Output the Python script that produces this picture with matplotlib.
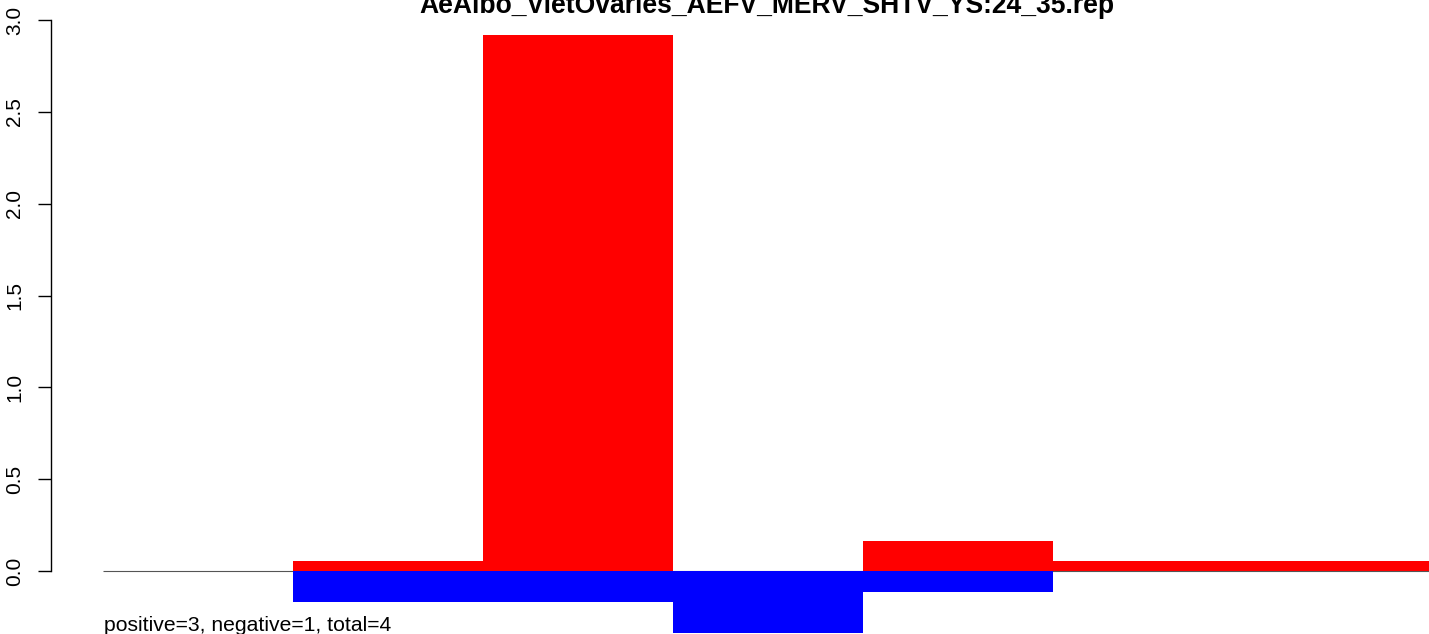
import matplotlib
matplotlib.use("Agg")
import matplotlib.pyplot as plt

# Data
bin_index = [0, 1, 2, 3, 4, 5, 6]
positive_values = [0.0, 0.054, 2.92, 0.0, 0.163, 0.054, 0.054]
negative_values = [0.0, -0.167, -0.167, -0.34, -0.113, 0.0, 0.0]
y_ticks = [0.0, 0.5, 1.0, 1.5, 2.0, 2.5, 3.0]
y_tick_labels = ["0.0", "0.5", "1.0", "1.5", "2.0", "2.5", "3.0"]
title = "AeAlbo_VietOvaries_AEFV_MERV_SHTV_YS:24_35.rep"
footer = "positive=3, negative=1, total=4"

W, H = 1429, 634
DPI = 100
plt.rcParams['font.family'] = ['Liberation Sans', 'DejaVu Sans']

fig = plt.figure(figsize=(W / DPI, H / DPI), dpi=DPI)

# axes spanning from pixel x=51 to right edge, full height
ax_left = 51
ax = fig.add_axes([ax_left / W, 0, 1 - ax_left / W, 1])

# pixel mapping: bin i starts at 103.3 + 190 i ; y=0 at 571 px
bin_w_px = 190.0
x0_px = 103.3
xmin = (ax_left - x0_px) / bin_w_px
xmax = (W - x0_px) / bin_w_px
ppu = (571 - 20) / 3.0
ymin = -(H - 571) / ppu
ymax = 571 / ppu
ax.set_xlim(xmin, xmax)
ax.set_ylim(ymin, ymax)

ax.hlines(0, bin_index[0], bin_index[-1] + 1, color="#555555", lw=0.8, zorder=1)
ax.bar(bin_index, positive_values, width=1.0, align="edge", color="#ff0000",
       linewidth=0, zorder=2)
ax.bar(bin_index, negative_values, width=1.0, align="edge", color="#0000ff",
       linewidth=0, zorder=2)

for s in ["top", "right", "bottom"]:
    ax.spines[s].set_visible(False)
ax.spines["left"].set_bounds(0, 3)
ax.spines["left"].set_linewidth(1.0)
ax.set_xticks([])
ax.set_yticks(y_ticks)
ax.set_yticklabels(y_tick_labels, rotation=90, va="center", fontsize=15)
ax.tick_params(axis="y", length=9.5, width=1.0, pad=10)

fig.text(767 / W, 1 - 13 / H, title, ha="center", va="baseline",
         fontsize=19.1, fontweight="bold")
fig.text(104 / W, 1 - 631 / H, footer, ha="left", va="baseline", fontsize=15.2)

fig.savefig("out.png", dpi=DPI)
